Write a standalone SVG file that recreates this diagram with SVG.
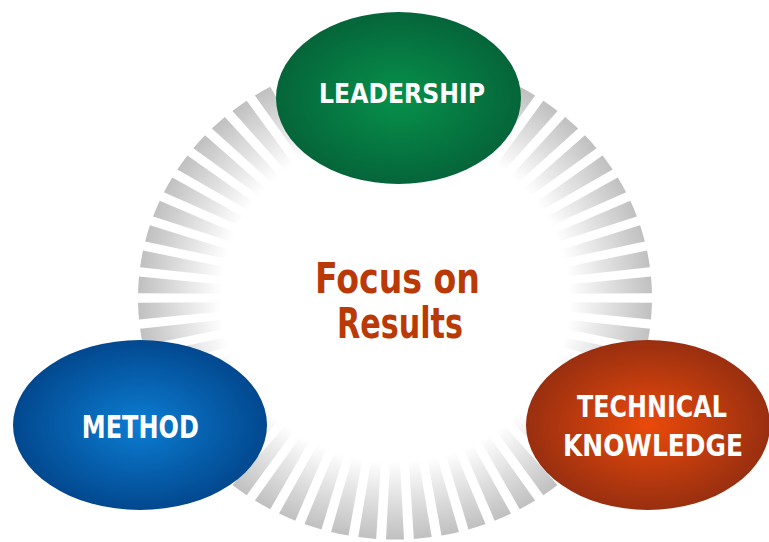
<svg xmlns="http://www.w3.org/2000/svg" xmlns:xlink="http://www.w3.org/1999/xlink" width="769" height="542" viewBox="0 0 769 542">
<style>
.lbl{font-family:'DejaVu Sans Condensed','DejaVu Sans','Liberation Sans',sans-serif;font-weight:bold;fill:#ffffff;text-anchor:middle}
.ctr{font-family:'DejaVu Sans Condensed','DejaVu Sans','Liberation Sans',sans-serif;font-weight:bold;fill:#b93a06;text-anchor:middle}
</style>
<defs>
<radialGradient id="ringGrad" gradientUnits="userSpaceOnUse" cx="0" cy="0" r="257">
<stop offset="0.677" stop-color="#ffffff"/>
<stop offset="0.82" stop-color="#e3e3e3"/>
<stop offset="1" stop-color="#c0c0c0"/>
</radialGradient>
<radialGradient id="gGreen" cx="0.5" cy="0.5" r="0.5">
<stop offset="0" stop-color="#07914b"/>
<stop offset="1" stop-color="#05653a"/>
</radialGradient>
<radialGradient id="gBlue" cx="0.5" cy="0.5" r="0.5">
<stop offset="0" stop-color="#0c7dd2"/>
<stop offset="1" stop-color="#02488f"/>
</radialGradient>
<radialGradient id="gOrange" cx="0.5" cy="0.5" r="0.5">
<stop offset="0" stop-color="#ea4a0a"/>
<stop offset="1" stop-color="#992f10"/>
</radialGradient>
<path id="seg" fill="url(#ringGrad)" d="M -5.01 173.93 A 174 174 0 0 0 5.01 173.93 L 8.97 256.84 A 257 257 0 0 1 -8.97 256.84 Z"/>
</defs>
<rect width="769" height="542" fill="#ffffff"/>
<g id="ring" transform="translate(395 298) scale(1 0.94)">
<use href="#seg"/>
<use href="#seg" transform="rotate(6.207)"/>
<use href="#seg" transform="rotate(12.414)"/>
<use href="#seg" transform="rotate(18.621)"/>
<use href="#seg" transform="rotate(24.828)"/>
<use href="#seg" transform="rotate(31.034)"/>
<use href="#seg" transform="rotate(37.241)"/>
<use href="#seg" transform="rotate(43.448)"/>
<use href="#seg" transform="rotate(49.655)"/>
<use href="#seg" transform="rotate(55.862)"/>
<use href="#seg" transform="rotate(62.069)"/>
<use href="#seg" transform="rotate(68.276)"/>
<use href="#seg" transform="rotate(74.483)"/>
<use href="#seg" transform="rotate(80.690)"/>
<use href="#seg" transform="rotate(86.897)"/>
<use href="#seg" transform="rotate(93.103)"/>
<use href="#seg" transform="rotate(99.310)"/>
<use href="#seg" transform="rotate(105.517)"/>
<use href="#seg" transform="rotate(111.724)"/>
<use href="#seg" transform="rotate(117.931)"/>
<use href="#seg" transform="rotate(124.138)"/>
<use href="#seg" transform="rotate(130.345)"/>
<use href="#seg" transform="rotate(136.552)"/>
<use href="#seg" transform="rotate(142.759)"/>
<use href="#seg" transform="rotate(148.966)"/>
<use href="#seg" transform="rotate(155.172)"/>
<use href="#seg" transform="rotate(161.379)"/>
<use href="#seg" transform="rotate(167.586)"/>
<use href="#seg" transform="rotate(173.793)"/>
<use href="#seg" transform="rotate(180)"/>
<use href="#seg" transform="rotate(186.207)"/>
<use href="#seg" transform="rotate(192.414)"/>
<use href="#seg" transform="rotate(198.621)"/>
<use href="#seg" transform="rotate(204.828)"/>
<use href="#seg" transform="rotate(211.034)"/>
<use href="#seg" transform="rotate(217.241)"/>
<use href="#seg" transform="rotate(223.448)"/>
<use href="#seg" transform="rotate(229.655)"/>
<use href="#seg" transform="rotate(235.862)"/>
<use href="#seg" transform="rotate(242.069)"/>
<use href="#seg" transform="rotate(248.276)"/>
<use href="#seg" transform="rotate(254.483)"/>
<use href="#seg" transform="rotate(260.690)"/>
<use href="#seg" transform="rotate(266.897)"/>
<use href="#seg" transform="rotate(273.103)"/>
<use href="#seg" transform="rotate(279.310)"/>
<use href="#seg" transform="rotate(285.517)"/>
<use href="#seg" transform="rotate(291.724)"/>
<use href="#seg" transform="rotate(297.931)"/>
<use href="#seg" transform="rotate(304.138)"/>
<use href="#seg" transform="rotate(310.345)"/>
<use href="#seg" transform="rotate(316.552)"/>
<use href="#seg" transform="rotate(322.759)"/>
<use href="#seg" transform="rotate(328.966)"/>
<use href="#seg" transform="rotate(335.172)"/>
<use href="#seg" transform="rotate(341.379)"/>
<use href="#seg" transform="rotate(347.586)"/>
<use href="#seg" transform="rotate(353.793)"/>
</g>
<g id="center">
<text class="ctr" x="397.5" y="293" font-size="42" textLength="165" lengthAdjust="spacingAndGlyphs">Focus on</text>
<text class="ctr" x="400" y="338" font-size="42" textLength="126" lengthAdjust="spacingAndGlyphs">Results</text>
</g>
<g id="leadership">
<ellipse cx="398.5" cy="98" rx="122.5" ry="86" fill="url(#gGreen)"/>
<text class="lbl" x="402" y="103" font-size="26" textLength="166" lengthAdjust="spacingAndGlyphs">LEADERSHIP</text>
</g>
<g id="method">
<ellipse cx="140" cy="425" rx="127" ry="85" fill="url(#gBlue)"/>
<text class="lbl" x="140.3" y="438" font-size="32" textLength="117" lengthAdjust="spacingAndGlyphs">METHOD</text>
</g>
<g id="technical">
<ellipse cx="648" cy="425" rx="122" ry="85" fill="url(#gOrange)"/>
<text class="lbl" x="652" y="417" font-size="30" textLength="150" lengthAdjust="spacingAndGlyphs">TECHNICAL</text>
<text class="lbl" x="653" y="456" font-size="30" textLength="180" lengthAdjust="spacingAndGlyphs">KNOWLEDGE</text>
</g>
</svg>
